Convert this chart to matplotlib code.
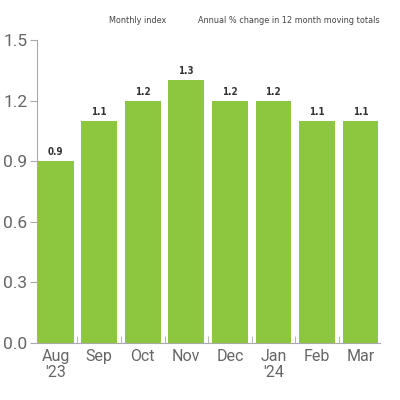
import matplotlib
matplotlib.use("Agg")
import matplotlib.pyplot as plt

# datos
meses = ["Aug\n'23", "Sep", "Oct", "Nov", "Dec", "Jan\n'24", "Feb", "Mar"]
valores = [0.9, 1.1, 1.2, 1.3, 1.2, 1.2, 1.1, 1.1]
yticks = [0.0, 0.3, 0.6, 0.9, 1.2, 1.5]

verde = "#8dc63f"
gris = "#666666"

fig = plt.figure(figsize=(4, 4), dpi=100)
ax = fig.add_axes([0.0925, 0.1425, 0.8575, 0.7575])

x = list(range(len(meses)))
bars = ax.bar(x, valores, width=0.82, color=verde, zorder=2)

for b, v in zip(bars, valores):
    ax.text(b.get_x() + b.get_width() / 2, v + 0.02, f"{v:.1f}",
            ha="center", va="bottom", fontsize=7, color="#333333",
            family="DejaVu Sans", fontstretch="condensed", fontweight="bold")

ax.set_ylim(0, 1.5)
ax.set_xlim(-0.43, 7.45)
ax.set_yticks(yticks)
ax.set_yticklabels([f"{t:.1f}" for t in yticks])
ax.set_xticks(x)
ax.set_xticklabels(meses, linespacing=1.1)
ax.set_xticks([i + 0.5 for i in x[:-1]], minor=True)

for s in ["top", "right"]:
    ax.spines[s].set_visible(False)
for s in ["left", "bottom"]:
    ax.spines[s].set_color("#aaaaaa")
    ax.spines[s].set_linewidth(0.8)

ax.tick_params(axis="y", direction="out", length=5, color="#aaaaaa",
               labelsize=12.5, labelcolor=gris, pad=2)
ax.tick_params(axis="x", which="major", length=0, labelsize=11.5,
               labelcolor=gris, pad=4)
ax.tick_params(axis="x", which="minor", direction="in", length=5,
               color="#aaaaaa")
for lab in ax.get_xticklabels() + ax.get_yticklabels():
    lab.set_family("Roboto")
    lab.set_fontweight("normal")

fig.text(0.345, 0.948, "Monthly index", ha="center", va="center",
         fontsize=6.5, color="#444444", family="DejaVu Sans",
         fontstretch="condensed")
fig.text(0.95, 0.948, "Annual % change in 12 month moving totals",
         ha="right", va="center", fontsize=6.5, color="#444444",
         family="DejaVu Sans", fontstretch="condensed")

fig.savefig("out.png", dpi=100, facecolor="white")
plt.close()
